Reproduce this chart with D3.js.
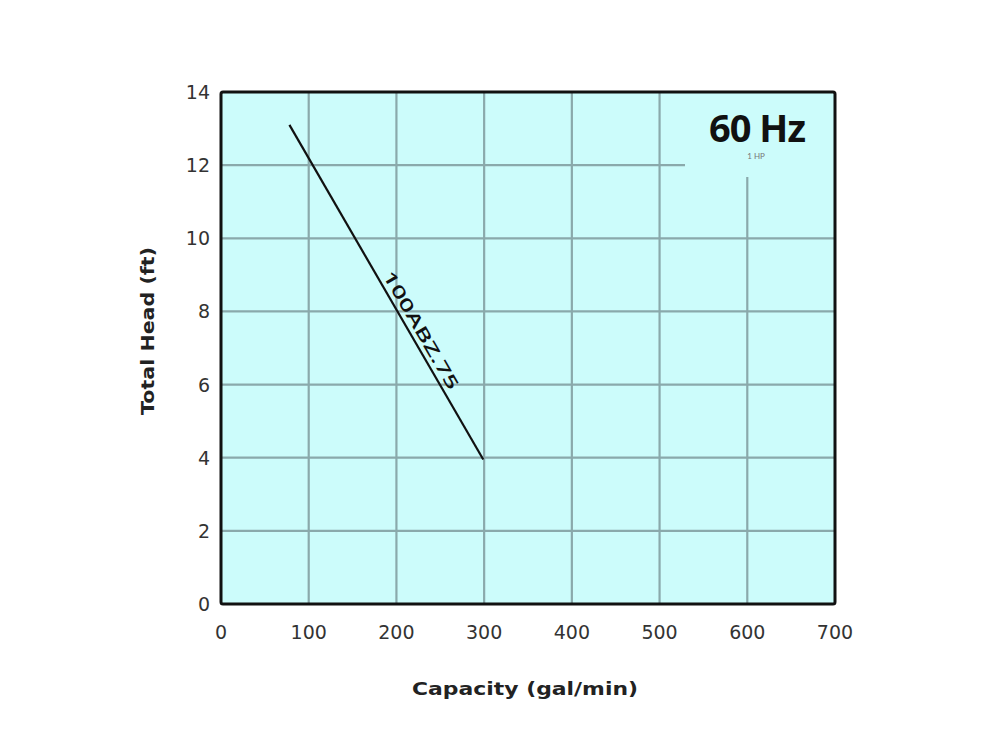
<!DOCTYPE html>
<html><head><meta charset="utf-8">
<script src="https://cdn.jsdelivr.net/npm/d3@7"></script>
<style>body{margin:0;background:#fff}</style>
</head><body>
<svg id="c" width="1000" height="750"></svg>
<script>
const xTicks = [0,100,200,300,400,500,600,700];
const yTicks = [0,2,4,6,8,10,12,14];
const curveX = [78, 299];
const curveY = [13.1, 3.95];
const curveName = "100ABZ.75";
const freqLabel = "60 Hz";
const hpLabel = "1 HP";
const xTitle = "Capacity (gal/min)";
const yTitle = "Total Head (ft)";

const svg = d3.select("#c");
const L=221,R=835,T=92,B=604;
const x = d3.scaleLinear().domain([0,700]).range([L,R]);
const y = d3.scaleLinear().domain([0,14]).range([B,T]);

svg.append("rect").attr("x",L).attr("y",T).attr("width",R-L).attr("height",B-T).attr("fill","#ccfcfb");

const grid = svg.append("g").attr("stroke","#8aa9ab").attr("stroke-width",2.2);
xTicks.slice(1,-1).forEach(v=>{
  grid.append("line").attr("x1",x(v)).attr("x2",x(v)).attr("y1",B).attr("y2",T);
});
yTicks.slice(1,-1).forEach(v=>{
  grid.append("line").attr("x1",L).attr("x2",R).attr("y1",y(v)).attr("y2",y(v));
});
// label box covering grid
svg.append("rect").attr("x",685).attr("y",T+1).attr("width",R-685).attr("height",176-T).attr("fill","#ccfcfb");

svg.append("rect").attr("x",L).attr("y",T).attr("width",R-L).attr("height",B-T)
  .attr("fill","none").attr("stroke","#111").attr("stroke-width",3).attr("rx",2);

const pts = curveX.map((v,i)=>[x(v),y(curveY[i])]);
svg.append("path").attr("d",d3.line()(pts)).attr("stroke","#111").attr("stroke-width",2.2).attr("fill","none");

const ang = Math.atan2(pts[1][1]-pts[0][1], pts[1][0]-pts[0][0])*180/Math.PI;
const t = 0.63;
const px = pts[0][0]+(pts[1][0]-pts[0][0])*t, py = pts[0][1]+(pts[1][1]-pts[0][1])*t;
svg.append("text").attr("transform",`translate(${px},${py}) rotate(${ang}) translate(0,-5)`)
  .attr("text-anchor","middle").attr("font-family","'Open Sans', sans-serif").attr("font-size",17)
  .attr("font-weight",600).attr("fill","#111")
  .attr("textLength",134).attr("lengthAdjust","spacingAndGlyphs").text(curveName);

const ff = "'DejaVu Sans', sans-serif";
svg.append("g").selectAll("text").data(yTicks).join("text")
  .attr("x",210).attr("y",d=>y(d)+7).attr("text-anchor","end")
  .attr("font-family",ff).attr("font-size",19).attr("fill","#333").text(d=>d);
svg.append("g").selectAll("text").data(xTicks).join("text")
  .attr("x",d=>x(d)).attr("y",639).attr("text-anchor","middle")
  .attr("font-family",ff).attr("font-size",19).attr("fill","#333").text(d=>d);

svg.append("text").attr("x",525).attr("y",695).attr("text-anchor","middle")
  .attr("font-family",ff).attr("font-weight",700).attr("font-size",18).attr("fill","#222")
  .attr("textLength",226).attr("lengthAdjust","spacingAndGlyphs").text(xTitle);
svg.append("text").attr("transform","translate(154,331) rotate(-90)").attr("text-anchor","middle")
  .attr("font-family",ff).attr("font-weight",700).attr("font-size",18).attr("fill","#222")
  .attr("textLength",168).attr("lengthAdjust","spacingAndGlyphs").text(yTitle);

svg.append("text").attr("x",757).attr("y",142).attr("text-anchor","middle")
  .attr("font-family","'Open Sans', sans-serif").attr("font-weight",700).attr("font-size",38)
  .attr("letter-spacing",-1).attr("fill","#111").text(freqLabel);
svg.append("text").attr("x",756).attr("y",159).attr("text-anchor","middle")
  .attr("font-family","Lato, sans-serif").attr("font-size",8).attr("fill","#777").text(hpLabel);
</script>
</body></html>
